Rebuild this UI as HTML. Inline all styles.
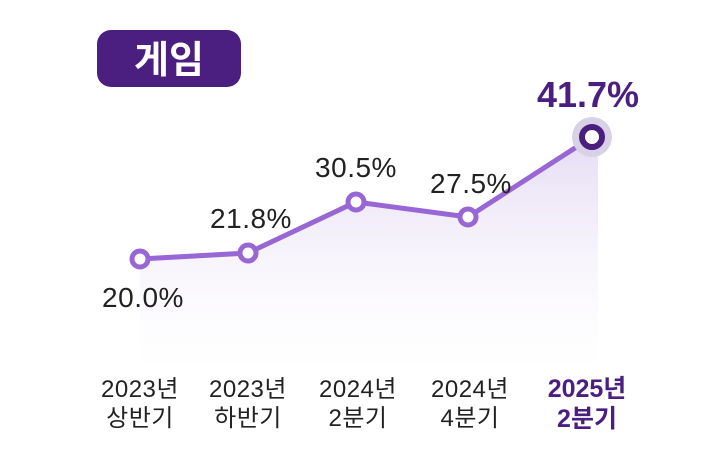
<!DOCTYPE html>
<html><head><meta charset="utf-8"><style>
body{margin:0;width:715px;height:468px;background:#fff;overflow:hidden;font-family:"Liberation Sans","Noto Sans CJK KR",sans-serif}
</style></head><body>
<svg width="715" height="468" xmlns="http://www.w3.org/2000/svg" style="position:absolute;left:0;top:0">
<defs>
<linearGradient id="g" x1="0" y1="0" x2="0" y2="1">
<stop offset="0" stop-color="#b79be0" stop-opacity="0.35"/>
<stop offset="1" stop-color="#e8def5" stop-opacity="0"/>
</linearGradient>
</defs>
<rect x="97" y="30" width="144" height="57" rx="14" fill="#4b1f80"/>
<text x="169" y="73" font-size="38" font-weight="bold" fill="#fff" text-anchor="middle" font-family="Noto Sans CJK KR,sans-serif">게임</text>
<polygon points="140,259 248,253 356,202 468,217 592,137 598,137 598,370 140,370" fill="url(#g)"/>
<polyline points="140,259 248,253 356,202 468,217 592,137" fill="none" stroke="#9966d6" stroke-width="5"/>
<g fill="#fff" stroke="#9966d6" stroke-width="5">
<circle cx="140" cy="259" r="8"/><circle cx="248" cy="253" r="8"/><circle cx="356" cy="202" r="8"/><circle cx="468" cy="217" r="8"/>
</g>
<circle cx="592" cy="137" r="20" fill="#d9d1e6"/>
<circle cx="592" cy="137" r="10" fill="#fff" stroke="#4b1f80" stroke-width="6"/>
<g font-size="28" fill="#222" text-anchor="middle" letter-spacing="0.5">
<text x="143" y="307">20.0%</text>
<text x="251" y="228">21.8%</text>
<text x="356" y="177">30.5%</text>
<text x="471" y="193">27.5%</text>
</g>
<text x="588" y="107" font-size="36" font-weight="bold" fill="#4b1f80" text-anchor="middle">41.7%</text>
<g font-size="24" fill="#222" text-anchor="middle" letter-spacing="0.5">
<text x="140" y="397">2023년</text><text x="140" y="426">상반기</text>
<text x="248" y="397">2023년</text><text x="248" y="426">하반기</text>
<text x="358" y="397">2024년</text><text x="358" y="426">2분기</text>
<text x="470" y="397">2024년</text><text x="470" y="426">4분기</text>
</g>
<g font-size="25" font-weight="bold" fill="#4b1f80" text-anchor="middle">
<text x="587" y="397">2025년</text><text x="587" y="427">2분기</text>
</g>
</svg>
</body></html>
